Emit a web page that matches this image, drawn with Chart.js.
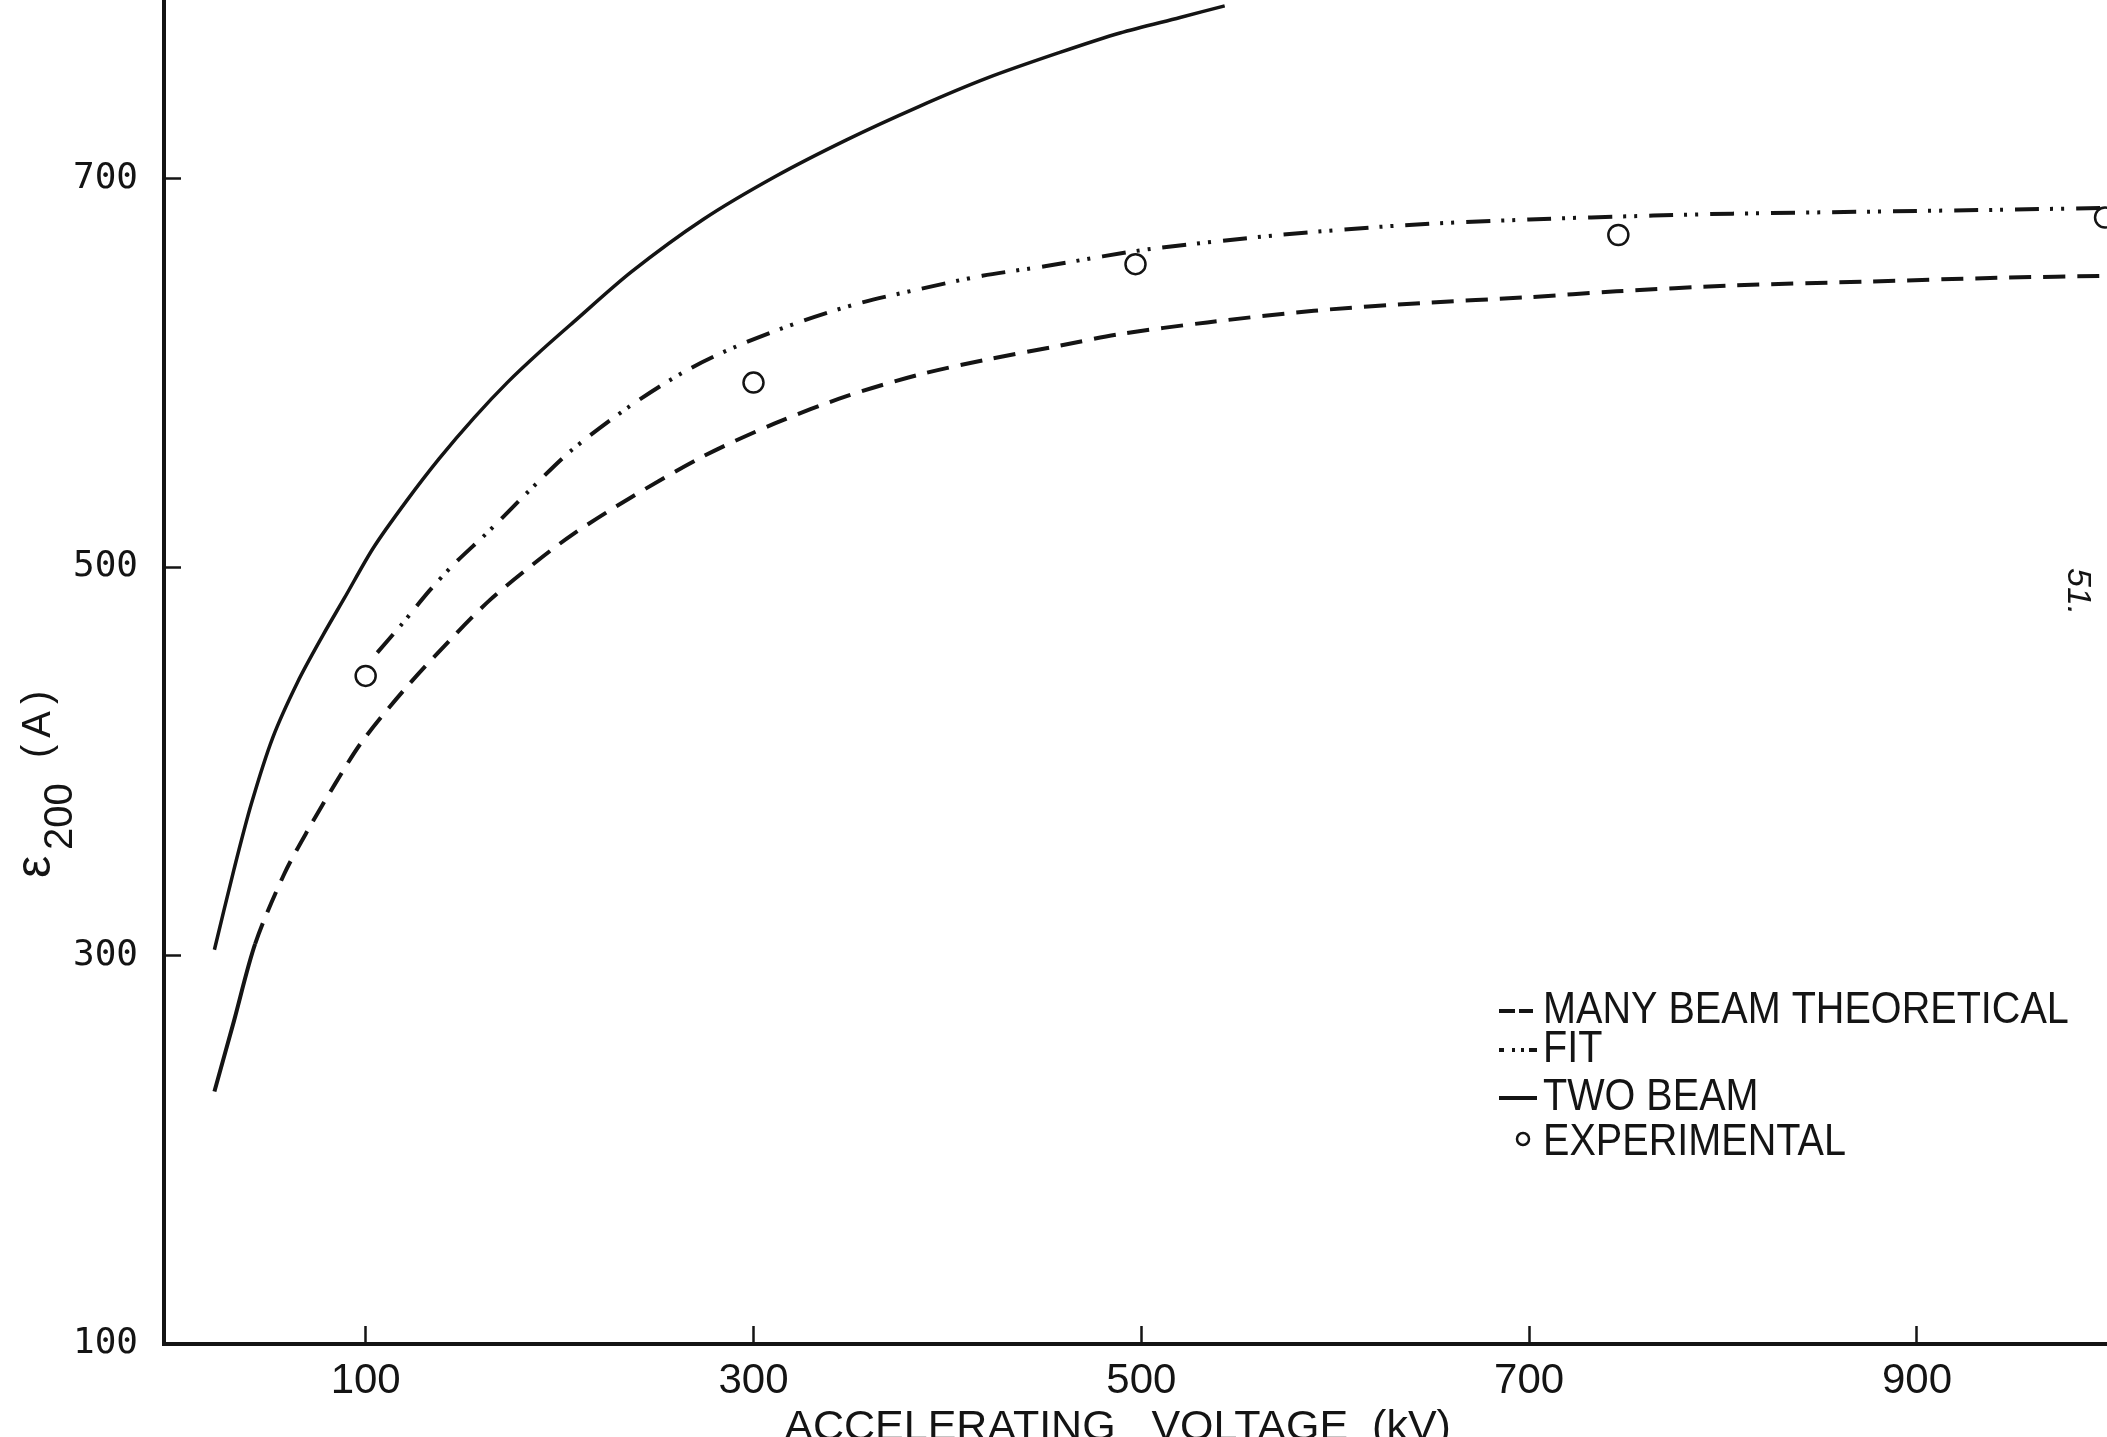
<!DOCTYPE html>
<html>
<head>
<meta charset="utf-8">
<script src="https://cdn.jsdelivr.net/npm/chart.js@4.4.1/dist/chart.umd.min.js"></script>
<style>
  html, body { margin: 0; padding: 0; background: #fff; overflow: hidden; }
  #wrap { width: 2107px; height: 1437px; position: relative; }
</style>
</head>
<body>
<div id="wrap"><canvas id="extinctionChart"></canvas></div>
<script>
// values: accelerating voltage (kV) vs extinction distance (A)
const manyBeamKv = [22, 32, 43, 58, 71, 84, 98, 120, 144, 164, 187, 207, 237, 274, 311, 348, 385, 421, 458, 489, 534, 589, 645, 700, 745, 805, 874, 943, 1000];
const manyBeamXi = [230, 266, 306, 342, 366, 388, 410, 437, 463, 483, 502, 517, 536, 557, 574, 588, 599, 607, 614, 620, 626, 632, 636, 639, 642, 645, 647, 649, 650];

const fitKv = [106, 119, 133, 146, 163, 185, 206, 235, 265, 292, 326, 355, 385, 418, 451, 480, 506, 571, 635, 700, 764, 805, 874, 943, 1000];
const fitXi = [456, 471, 488, 502, 518, 540, 560, 582, 601, 614, 627, 636, 643, 650, 655, 660, 664, 671, 676, 679, 681, 682, 683, 684, 685];

const twoBeamKv = [22, 32, 41, 52, 65, 78, 89, 104, 121, 138, 156, 173, 190, 207, 237, 274, 311, 348, 385, 421, 458, 489, 520, 543];
const twoBeamXi = [303, 344, 378, 412, 441, 465, 484, 510, 534, 556, 577, 595, 611, 626, 652, 679, 701, 720, 737, 752, 765, 775, 783, 789];

const expKv = [100, 300, 497, 746, 997];
const expXi = [444, 595, 656, 671, 680];

const xTicks = [100, 300, 500, 700, 900];
const yTicks = [100, 300, 500, 700];

const ink = '#141414';
const sans = '"Liberation Sans", Arial, sans-serif';

function pairs(xs, ys) {
  return xs.map((x, i) => ({ x: x, y: ys[i] }));
}

function noEdgePadding(s) {
  s.paddingTop = 0;
  s.paddingBottom = 0;
  s.paddingLeft = 0;
  s.paddingRight = 0;
}

// legend typed in the lower right, like the original
const typedLegend = {
  id: 'typedLegend',
  afterDraw(chart) {
    const ctx = chart.ctx;
    const baselines = [1023, 1062, 1110, 1155];
    const sampleDash = [[16, 4, 14, 40], [5, 8, 3, 6, 3, 5, 12], [], []];
    chart.data.datasets.forEach((ds, i) => {
      const base = baselines[i];
      ctx.save();
      ctx.strokeStyle = ink;
      if (ds.showLine === false) {
        ctx.lineWidth = 2.5;
        ctx.beginPath();
        ctx.arc(1523, base - 16, 6, 0, Math.PI * 2);
        ctx.stroke();
      } else {
        ctx.lineWidth = 4;
        ctx.setLineDash(sampleDash[i]);
        ctx.beginPath();
        ctx.moveTo(1499, base - 12);
        ctx.lineTo(1537, base - 12);
        ctx.stroke();
      }
      ctx.restore();

      ctx.save();
      ctx.fillStyle = ink;
      ctx.font = '45px ' + sans;
      ctx.translate(1543, base);
      ctx.scale(0.88, 1);
      ctx.fillText(ds.label, 0, 0);
      ctx.restore();
    });
  }
};

// rotated y title with subscript, and the page number at the right edge
const sideTexts = {
  id: 'sideTexts',
  afterDraw(chart) {
    const ctx = chart.ctx;
    ctx.save();
    ctx.fillStyle = ink;
    ctx.translate(50, 878);
    ctx.rotate(-Math.PI / 2);
    ctx.font = '50px ' + sans;
    ctx.fillText('ε', 0, 0);
    ctx.font = '40px ' + sans;
    ctx.fillText('200', 28, 22);
    ctx.letterSpacing = '7px';
    ctx.fillText('(A)', 120, 0);
    ctx.restore();

    ctx.save();
    ctx.fillStyle = ink;
    ctx.translate(2068, 568);
    ctx.rotate(Math.PI / 2);
    ctx.font = 'italic 34px ' + sans;
    ctx.fillText('51.', 0, 0);
    ctx.restore();
  }
};

new Chart(document.getElementById('extinctionChart'), {
  type: 'line',
  data: {
    datasets: [
      {
        label: 'MANY BEAM THEORETICAL',
        data: pairs(manyBeamKv, manyBeamXi),
        borderColor: ink,
        borderWidth: 4,
        borderDash: [22, 12],
        pointRadius: 0,
        tension: 0.3,
        segment: {
          borderDash: c => (c.p1.parsed.x <= 43 ? [] : [22, 12])
        }
      },
      {
        label: 'FIT',
        data: pairs(fitKv, fitXi),
        borderColor: ink,
        borderWidth: 4,
        borderDash: [24, 11, 3, 8, 3, 12],
        pointRadius: 0,
        tension: 0.3
      },
      {
        label: 'TWO BEAM',
        data: pairs(twoBeamKv, twoBeamXi),
        borderColor: ink,
        borderWidth: 3.5,
        pointRadius: 0,
        tension: 0.3
      },
      {
        label: 'EXPERIMENTAL',
        data: pairs(expKv, expXi),
        showLine: false,
        borderColor: ink,
        pointStyle: 'circle',
        pointRadius: 10,
        pointBorderWidth: 2.5,
        pointBorderColor: ink,
        pointBackgroundColor: 'rgba(255,255,255,0)',
        clip: false
      }
    ]
  },
  options: {
    responsive: true,
    maintainAspectRatio: false,
    animation: false,
    layout: { padding: 0, autoPadding: false },
    elements: { line: { borderCapStyle: 'butt' } },
    plugins: {
      legend: { display: false },
      tooltip: { enabled: false }
    },
    scales: {
      x: {
        type: 'linear',
        min: -4,
        max: 998,
        afterBuildTicks: s => { s.ticks = xTicks.map(v => ({ value: v })); },
        afterFit: s => { s.height = 93; noEdgePadding(s); },
        grid: { drawOnChartArea: false, tickLength: -18, tickWidth: 2.5, tickColor: ink },
        border: { display: true, color: ink, width: 4 },
        ticks: {
          color: ink,
          padding: 30,
          maxRotation: 0,
          autoSkip: false,
          font: { family: sans, size: 42 }
        },
        title: {
          display: true,
          // trailing spaces nudge the centred title a little to the left, as typed
          text: 'ACCELERATING   VOLTAGE  (kV)   ',
          color: ink,
          font: { family: sans, size: 43 },
          padding: { top: 0, bottom: -17 }
        }
      },
      y: {
        type: 'linear',
        min: 100,
        max: 792,
        afterBuildTicks: s => { s.ticks = yTicks.map(v => ({ value: v })); },
        afterFit: s => { s.width = 164; noEdgePadding(s); },
        grid: { drawOnChartArea: false, tickLength: -17, tickWidth: 2.5, tickColor: ink },
        border: { display: true, color: ink, width: 4 },
        ticks: {
          color: ink,
          padding: 43,
          font: { family: '"DejaVu Sans Mono", monospace', size: 36 }
        }
      }
    }
  },
  plugins: [typedLegend, sideTexts]
});
</script>
</body>
</html>
